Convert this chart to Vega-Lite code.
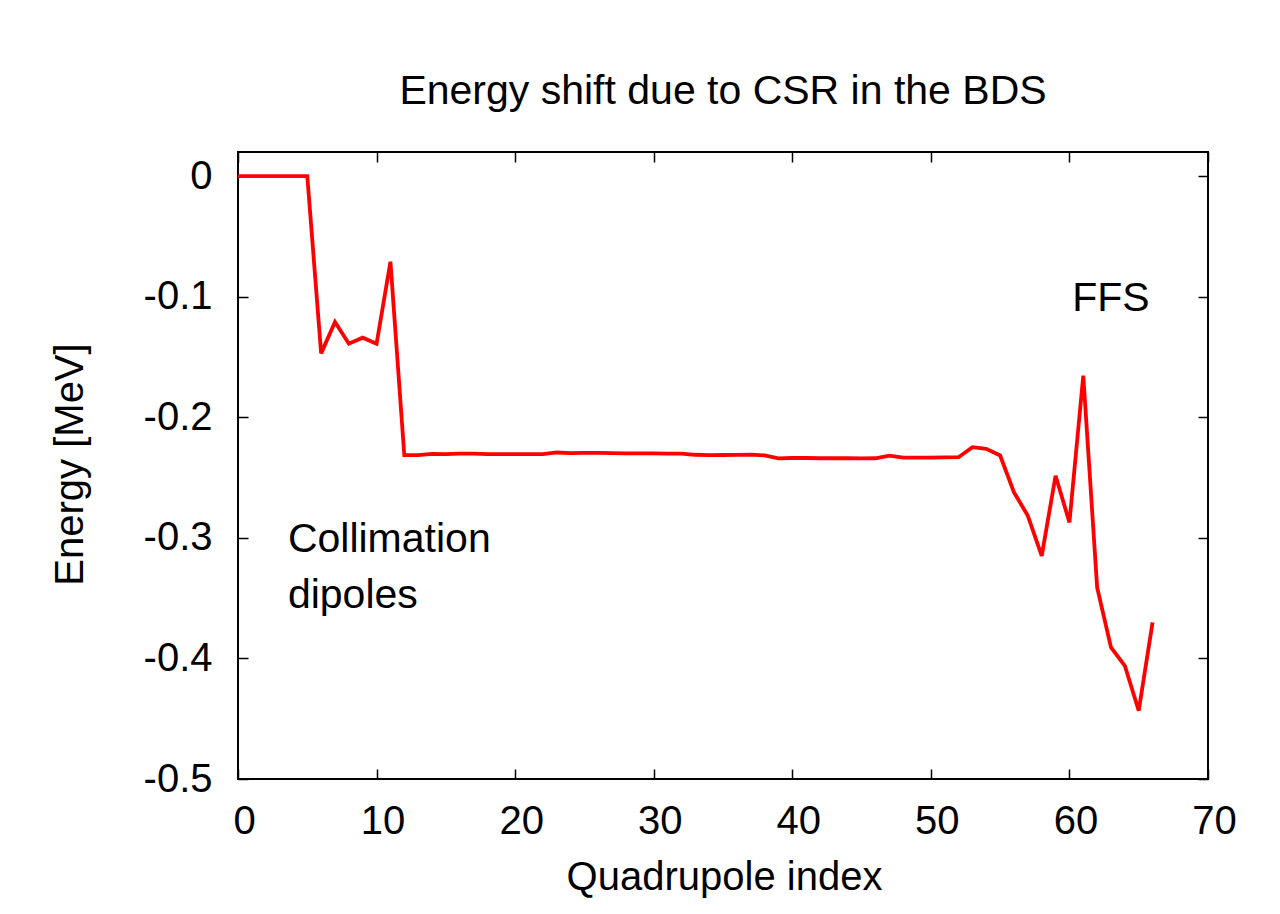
{
  "$schema": "https://vega.github.io/schema/vega-lite/v6.json",
  "width": 970,
  "height": 627,
  "autosize": {"type": "none"},
  "padding": {"left": 238, "top": 152, "right": 72, "bottom": 135},
  "background": "white",
  "config": {
    "view": {"stroke": "black", "strokeWidth": 2},
    "font": "Liberation Sans",
    "axis": {
      "grid": false,
      "domain": false,
      "tickColor": "black",
      "tickWidth": 1.5,
      "tickSize": -10,
      "labelFont": "Liberation Sans",
      "labelFontSize": 40,
      "labelColor": "black",
      "titleFont": "Liberation Sans",
      "titleFontSize": 40,
      "titleFontWeight": "normal",
      "titleColor": "black"
    }
  },
  "title": {
    "text": "Energy shift due to CSR in the BDS",
    "font": "Liberation Sans",
    "fontSize": 41,
    "fontWeight": "normal",
    "color": "black",
    "anchor": "middle",
    "frame": "group",
    "baseline": "alphabetic",
    "offset": 6
  },
  "datasets": {
    "series": [
      {"x": 0, "y": 0}, {"x": 1, "y": 0}, {"x": 2, "y": 0}, {"x": 3, "y": 0}, {"x": 4, "y": 0}, {"x": 5, "y": 0},
      {"x": 6, "y": -0.147}, {"x": 7, "y": -0.121}, {"x": 8, "y": -0.139}, {"x": 9, "y": -0.134}, {"x": 10, "y": -0.139},
      {"x": 11, "y": -0.071}, {"x": 12, "y": -0.2314}, {"x": 13, "y": -0.2314}, {"x": 14, "y": -0.2303}, {"x": 15, "y": -0.2305},
      {"x": 16, "y": -0.2302}, {"x": 17, "y": -0.2302}, {"x": 18, "y": -0.2305}, {"x": 19, "y": -0.2305}, {"x": 20, "y": -0.2305},
      {"x": 21, "y": -0.2305}, {"x": 22, "y": -0.2305}, {"x": 23, "y": -0.2292}, {"x": 24, "y": -0.2298}, {"x": 25, "y": -0.2295},
      {"x": 26, "y": -0.2295}, {"x": 27, "y": -0.2297}, {"x": 28, "y": -0.2299}, {"x": 29, "y": -0.23}, {"x": 30, "y": -0.23},
      {"x": 31, "y": -0.2301}, {"x": 32, "y": -0.2301}, {"x": 33, "y": -0.2311}, {"x": 34, "y": -0.2314}, {"x": 35, "y": -0.2313},
      {"x": 36, "y": -0.2312}, {"x": 37, "y": -0.231}, {"x": 38, "y": -0.2316}, {"x": 39, "y": -0.2341}, {"x": 40, "y": -0.2338},
      {"x": 41, "y": -0.2338}, {"x": 42, "y": -0.234}, {"x": 43, "y": -0.234}, {"x": 44, "y": -0.234}, {"x": 45, "y": -0.2341},
      {"x": 46, "y": -0.234}, {"x": 47, "y": -0.2319}, {"x": 48, "y": -0.2335}, {"x": 49, "y": -0.2335}, {"x": 50, "y": -0.2334},
      {"x": 51, "y": -0.2332}, {"x": 52, "y": -0.2331}, {"x": 53, "y": -0.2248}, {"x": 54, "y": -0.2262}, {"x": 55, "y": -0.2317},
      {"x": 56, "y": -0.2623}, {"x": 57, "y": -0.2817}, {"x": 58, "y": -0.3149}, {"x": 59, "y": -0.2485}, {"x": 60, "y": -0.2872},
      {"x": 61, "y": -0.1655}, {"x": 62, "y": -0.3411}, {"x": 63, "y": -0.3909}, {"x": 64, "y": -0.4061}, {"x": 65, "y": -0.4434},
      {"x": 66, "y": -0.3701}
    ],
    "notes": [
      {"x": 3.6, "y": -0.3115, "label": "Collimation"},
      {"x": 3.6, "y": -0.358, "label": "dipoles"},
      {"x": 60.2, "y": -0.1117, "label": "FFS"}
    ]
  },
  "layer": [
    {
      "data": {"name": "series"},
      "mark": {"type": "line", "color": "#ff0000", "strokeWidth": 3.8, "clip": true},
      "encoding": {
        "x": {
          "field": "x", "type": "quantitative",
          "scale": {"domain": [0, 70], "nice": false, "zero": false},
          "axis": {
            "orient": "bottom",
            "values": [0, 10, 20, 30, 40, 50, 60, 70],
            "labelPadding": 64,
            "labelBaseline": "alphabetic",
            "labelOffset": 6,
            "labelFlush": false,
            "labelOverlap": false,
            "title": "Quadrupole index",
            "titleBaseline": "alphabetic",
            "titleX": 486,
            "titleY": 110,
            "titleAnchor": null
          }
        },
        "y": {
          "field": "y", "type": "quantitative",
          "scale": {"domain": [-0.5, 0.02], "nice": false, "zero": false},
          "axis": {
            "orient": "left",
            "values": [-0.5, -0.4, -0.3, -0.2, -0.1, 0],
            "labelExpr": "datum.value == 0 ? '0' : '-' + format(-datum.value, '.1f')",
            "labelPadding": 36,
            "labelAlign": "right",
            "labelBaseline": "middle",
            "labelOffset": 0,
            "labelFlush": false,
            "labelOverlap": false,
            "title": "Energy [MeV]",
            "titleBaseline": "alphabetic",
            "titleAngle": 270,
            "titleAlign": "center",
            "titleX": -156,
            "titleY": 312
          }
        }
      }
    },
    {
      "data": {"name": "series"},
      "mark": {"type": "line", "strokeOpacity": 0},
      "encoding": {
        "x": {
          "field": "x", "type": "quantitative",
          "axis": {"orient": "top", "values": [0, 10, 20, 30, 40, 50, 60, 70], "labels": false, "title": null}
        },
        "y": {
          "field": "y", "type": "quantitative",
          "axis": {"orient": "right", "values": [-0.5, -0.4, -0.3, -0.2, -0.1, 0], "labels": false, "title": null}
        }
      }
    },
    {
      "data": {"name": "notes"},
      "mark": {"type": "text", "font": "Liberation Sans", "fontSize": 41, "align": "left", "baseline": "alphabetic", "color": "black"},
      "encoding": {
        "x": {"field": "x", "type": "quantitative", "axis": null},
        "y": {"field": "y", "type": "quantitative", "axis": null},
        "text": {"field": "label"}
      }
    }
  ],
  "resolve": {"axis": {"x": "independent", "y": "independent"}}
}
